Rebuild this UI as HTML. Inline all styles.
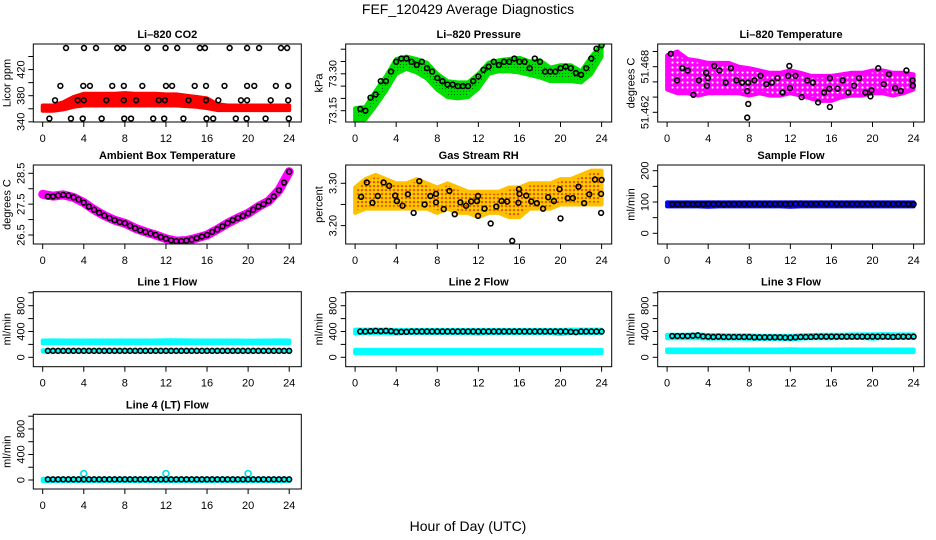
<!DOCTYPE html>
<html><head><meta charset="utf-8"><style>
html,body{margin:0;padding:0;background:#fff;}
svg{display:block;font-family:"Liberation Sans",Arial,sans-serif;}
</style></head><body>
<svg id="chart" width="936" height="540" viewBox="0 0 936 540" xmlns="http://www.w3.org/2000/svg">
<defs>
<pattern id="rhPat" width="4" height="4" patternUnits="userSpaceOnUse"><rect width="4" height="4" fill="#ffd000"/><circle cx="2" cy="2" r="1.3" fill="#e85a00"/></pattern>
<pattern id="grPat" width="3" height="3" patternUnits="userSpaceOnUse"><rect width="3" height="3" fill="#00e000"/><rect x="1" y="1" width="1" height="1" fill="#006000"/></pattern>
<pattern id="mgPat" width="5" height="5" patternUnits="userSpaceOnUse"><rect width="5" height="5" fill="#ff00ff"/><circle cx="2.5" cy="2.5" r="1.1" fill="#ffffff"/></pattern>
</defs>
<text x="468" y="14" font-size="14" text-anchor="middle">FEF_120429  Average Diagnostics</text>
<text x="468" y="531" font-size="14" text-anchor="middle">Hour of Day (UTC)</text>
</svg>
<script>
const hours25=[0,1,2,3,4,5,6,7,8,9,10,11,12,13,14,15,16,17,18,19,20,21,22,23,24];
const hours48=[0.5,1,1.5,2,2.5,3,3.5,4,4.5,5,5.5,6,6.5,7,7.5,8,8.5,9,9.5,10,10.5,11,11.5,12,12.5,13,13.5,14,14.5,15,15.5,16,16.5,17,17.5,18,18.5,19,19.5,20,20.5,21,21.5,22,22.5,23,23.5,24];
const xTicks=[0,4,8,12,16,20,24];

// CO2
const co2Hours=[2.27,4.02,5.19,7.26,7.84,10.2,11.96,13.1,15.3,15.8,18.2,19.9,21.07,23.2,23.8,
1.72,3.95,4.6,6.77,7.9,9.7,12.0,12.6,14.8,15.9,17.7,19.9,20.6,22.7,23.9,
1.2,3.4,4.0,6.2,7.9,9.1,11.3,11.9,14.2,15.9,17.1,19.3,19.9,22.2,23.9,
0.65,2.75,3.9,5.74,7.94,8.6,10.76,11.83,13.7,15.95,16.6,18.8,19.85,21.7,23.96];
const co2Vals=[453,453,453,453,453,453,453,453,453,453,453,453,453,453,453,
395,395,395,395,395,395,395,395,395,395,395,395,395,395,395,
373,373,373,373,373,373,373,373,373,373,373,373,373,373,373,
345,345,345,345,345,345,345,345,345,345,345,345,345,345,345];
const co2BandLo=[357,357,359,363,365,365,365,365,365,365,365,365,365,365,364,363,361,358,358,358,358,358,358,358,358];
const co2BandHi=[365,365,370,378,383,383,383,383,384,383,383,383,382,382,380,378,376,367,365,365,365,365,365,365,365];
const co2Ticks=[340,360,380,400,420,440];
const co2Labels=["340","","380","","420",""];

// Pressure
const presVals=[73.157,73.15,73.203,73.216,73.27,73.27,73.309,73.349,73.362,73.362,73.349,73.336,73.349,73.323,73.309,73.283,73.27,73.256,73.256,73.25,73.25,73.25,73.27,73.289,73.316,73.329,73.349,73.336,73.349,73.349,73.362,73.349,73.349,73.323,73.362,73.349,73.309,73.309,73.309,73.323,73.329,73.323,73.303,73.296,73.323,73.362,73.402,73.416];
const presBandHi=[73.16,73.165,73.23,73.29,73.36,73.37,73.36,73.345,73.30,73.27,73.265,73.265,73.30,73.345,73.355,73.36,73.365,73.35,73.355,73.325,73.335,73.335,73.31,73.37,73.42];
const presBandLo=[73.11,73.115,73.17,73.23,73.30,73.32,73.305,73.28,73.235,73.205,73.20,73.205,73.24,73.30,73.31,73.31,73.305,73.295,73.285,73.27,73.27,73.27,73.265,73.30,73.37];
const presTicks=[73.15,73.20,73.25,73.30,73.35,73.40];
const presLabels=["73.15","","","73.30","",""];

// Li-820 temperature
const ltHours=[0.36,0.97,1.48,2.0,2.56,3.1,3.8,3.88,3.97,4.6,5.1,5.7,6.2,6.75,7.3,7.8,7.9,7.9,7.8,8.5,9.1,9.66,10.2,10.75,11.25,11.8,11.9,11.96,12.5,13.1,13.65,14.2,14.7,15.3,15.8,15.85,15.85,16.6,17.1,17.65,18.2,18.7,19.3,19.8,19.9,20.56,21.1,21.6,22.2,22.75,23.3,23.9,23.93];
const ltVals=[51.4697,51.4662,51.4678,51.4675,51.4643,51.4662,51.4672,51.4655,51.4665,51.4681,51.4675,51.4659,51.4678,51.4662,51.4659,51.4648,51.4659,51.4631,51.4613,51.4662,51.4668,51.4657,51.4659,51.4665,51.4646,51.4668,51.4681,51.4652,51.4668,51.4640,51.4662,51.4659,51.4633,51.4646,51.4651,51.4665,51.4627,51.4651,51.4662,51.4646,51.4655,51.4665,51.4646,51.4641,51.4649,51.4678,51.4657,51.4670,51.4652,51.4648,51.4675,51.4662,51.4655];
const ltBandLo=[51.4650,51.4645,51.4645,51.4642,51.4645,51.4645,51.4645,51.4645,51.4642,51.4645,51.4642,51.4642,51.4645,51.4642,51.4638,51.4635,51.4635,51.4640,51.4642,51.4642,51.4645,51.4645,51.4642,51.4645,51.4650];
const ltBandHi=[51.4695,51.4700,51.4690,51.4688,51.4685,51.4685,51.4685,51.4680,51.4678,51.4675,51.4672,51.4672,51.4675,51.4672,51.4668,51.4668,51.4668,51.4670,51.4672,51.4672,51.4675,51.4675,51.4672,51.4672,51.4670];
const ltTicks=[51.470,51.468,51.466,51.464,51.462];
const ltLabels=["","51.468","","","51.462"];

// Ambient box temperature
const ambVals=[27.75,27.75,27.78,27.8,27.78,27.72,27.65,27.55,27.42,27.32,27.22,27.13,27.05,26.98,26.92,26.88,26.8,26.72,26.65,26.6,26.55,26.5,26.43,26.38,26.33,26.3,26.3,26.32,26.35,26.4,26.45,26.5,26.6,26.68,26.78,26.88,26.98,27.05,27.12,27.2,27.32,27.42,27.5,27.6,27.75,27.95,28.2,28.55];
const ambLine=[27.82,27.76,27.8,27.72,27.55,27.32,27.13,26.98,26.88,26.72,26.6,26.5,26.38,26.3,26.32,26.4,26.5,26.68,26.88,27.05,27.2,27.42,27.6,27.95,28.55];
const ambTicks=[26.5,27,27.5,28,28.5];
const ambLabels=["26.5","","27.5","","28.5"];

// Gas stream RH
const rhHours=[0.59,1.14,1.69,2.21,2.77,3.32,3.9,4.07,4.62,5.14,5.7,6.25,6.77,7.33,7.88,7.88,8.63,9.18,9.7,10.25,10.8,11.3,11.87,11.97,11.97,12.6,13.2,13.75,14.26,14.8,15.3,15.9,15.95,16.0,16.66,17.15,17.7,18.3,18.8,19.36,19.9,20.0,20.7,21.2,21.75,22.3,22.8,23.35,24.0,23.95,23.95];
const rhVals=[3.268,3.302,3.254,3.27,3.302,3.294,3.271,3.258,3.247,3.274,3.23,3.305,3.25,3.27,3.275,3.255,3.239,3.282,3.227,3.255,3.247,3.257,3.258,3.27,3.223,3.24,3.205,3.245,3.258,3.257,3.164,3.254,3.286,3.275,3.271,3.257,3.253,3.24,3.267,3.258,3.286,3.217,3.265,3.265,3.292,3.253,3.274,3.309,3.308,3.275,3.23];
const rhBandLo=[3.23,3.24,3.24,3.24,3.24,3.24,3.24,3.24,3.23,3.24,3.23,3.23,3.22,3.23,3.23,3.22,3.22,3.24,3.24,3.24,3.25,3.25,3.25,3.25,3.25];
const rhBandHi=[3.29,3.31,3.32,3.31,3.30,3.30,3.31,3.30,3.29,3.30,3.29,3.28,3.28,3.28,3.28,3.29,3.29,3.30,3.30,3.30,3.31,3.31,3.32,3.33,3.33];
const rhTicks=[3.20,3.25,3.30];
const rhLabels=["3.20","","3.30"];

// Sample flow
const sampleVals=[93,93,93,94,93,93,93,94,94,94,93,94,94,94,94,94,94,94,94,94,94,94,94,94,95,95,94,94,94,95,94,95,94,94,94,94,94,94,94,94,94,94,94,94,94,94,93,93];
const sampleBandLo=[86,86,86,86,85,86,86,86,86,86,86,86,85,86,86,86,86,86,86,86,86,86,86,86,86];
const sampleBandHi=[99,99,99,99,99,99,99,99,99,99,99,99,99,99,99,99,99,99,99,99,99,99,99,99,99];
const sampleTicks=[0,50,100,150,200];
const sampleLabels=["0","","100","","200"];

// Line flows
const flowTicks=[0,200,400,600,800,1000];
const flowLabels=["0","","400","","800",""];
const line1Black=[100,100,100,100,100,100,100,100,100,100,100,100,100,100,100,100,100,100,100,100,100,100,100,100,100,100,100,100,100,100,100,100,100,100,100,100,100,100,100,100,100,100,100,100,100,100,100,100];
const line1HiLo=[220,220,220,220,220,220,220,220,220,220,220,220,220,220,220,220,220,220,220,220,220,220,220,220,220];
const line1HiHi=[260,262,260,260,260,260,260,260,260,260,260,260,265,265,262,260,260,260,260,260,258,260,260,262,260];
const line1LoLo=[90,90,90,90,90,90,90,90,90,90,90,90,90,90,90,90,90,90,90,90,90,90,90,90,90];
const line1LoHi=[110,110,110,110,110,110,110,110,110,110,110,110,110,110,110,110,110,110,110,110,110,110,110,110,110];
const line2Black=[400,400,405,410,405,410,405,395,395,395,400,400,400,400,400,400,400,400,400,400,400,400,400,400,400,400,400,400,400,400,400,400,400,400,400,400,400,400,400,400,400,395,390,400,400,400,400,400];
const line2HiLo=[370,375,375,375,365,375,375,375,375,375,375,375,365,375,375,375,375,375,375,375,360,375,375,375,375];
const line2HiHi=[430,430,430,430,425,425,425,425,425,425,425,425,425,425,425,425,425,425,425,425,425,430,430,430,430];
const line2LoLo=[65,65,65,65,62,65,65,65,65,65,65,65,62,65,65,65,65,65,65,65,65,65,65,65,65];
const line2LoHi=[115,115,115,115,115,115,115,115,115,115,115,115,115,115,115,115,115,115,115,115,115,115,115,115,115];
const line3Black=[330,330,330,330,335,340,325,320,315,320,315,315,315,315,315,315,310,310,310,310,310,310,305,305,310,315,315,315,320,320,320,320,320,320,320,320,320,320,320,320,320,320,320,315,320,320,320,320];
const line3HiLo=[295,295,295,295,290,290,290,290,285,285,285,285,275,290,295,295,295,300,300,300,290,300,300,300,300];
const line3HiHi=[350,350,350,355,345,345,340,340,340,335,335,335,335,340,345,350,350,350,355,355,355,360,355,355,355];
const line3LoLo=[80,80,80,80,80,80,80,80,80,80,80,80,80,80,80,80,80,80,80,80,80,80,80,80,80];
const line3LoHi=[120,120,120,120,120,120,120,120,120,120,120,120,125,120,120,120,120,120,120,120,120,120,120,120,120];
const line4Black=[10,10,10,10,10,10,10,10,10,10,10,10,10,10,10,10,10,10,10,10,10,10,10,10,10,10,10,10,10,10,10,10,10,10,10,10,10,10,10,10,10,10,10,10,10,10,10,10];
const line4BandLo=[-15,-15,-15,-15,-15,-15,-15,-15,-15,-15,-15,-15,-15,-15,-15,-15,-15,-15,-15,-15,-15,-15,-15,-15,-15];
const line4BandHi=[20,20,20,20,20,20,20,20,20,20,20,20,20,20,20,20,20,20,20,20,20,20,20,20,20];
const line4OutHours=[4,12,20];
const line4OutVals=[100,100,100];

const svg=document.getElementById('chart');
const NS='http://www.w3.org/2000/svg';
function mk(tag,parent){const e=document.createElementNS(NS,tag);parent.appendChild(e);return e;}

const colL=[33.3,345.7,657.7], colW=[268,266,266.6];
const rowT=[44,165,291.7,414.3], rowB=[122,244,366.7,489];

function panel(name,title,c,r,ref,refPix,k,ticks,labels,ytitle){
  const g=mk('g',svg);
  
  
  const L=colL[c],T=rowT[r],W=colW[c],B=rowB[r];
  const x0=L+9.4, xs=246.5/24;
  const P={g:g,sx:h=>x0+h*xs,sy:v=>refPix-(v-ref)*k,L:L,T:T,W:W,B:B};
  const marks=mk('g',g);
  
  
  P.m=marks;
  const cp=mk('clipPath',g);cp.setAttribute('id','clip-'+name);
  const cr=mk('rect',cp);cr.setAttribute('x',L);cr.setAttribute('y',T);cr.setAttribute('width',W);cr.setAttribute('height',B-T);
  marks.setAttribute('clip-path','url(#clip-'+name+')');
  const box=mk('rect',g);
  
  
  box.setAttribute('x',L);box.setAttribute('y',T);box.setAttribute('width',W);box.setAttribute('height',B-T);
  box.setAttribute('fill','none');box.setAttribute('stroke','#000');box.setAttribute('stroke-width','1');
  const t=mk('text',g);
  
  
  t.setAttribute('x',L+W/2);t.setAttribute('y',T-6);t.setAttribute('font-size','11');t.setAttribute('font-weight','bold');t.setAttribute('text-anchor','middle');
  t.textContent=title;
  xTicks.forEach(h=>{
    const x=P.sx(h);
    const l=mk('line',g);
    
    
    l.setAttribute('x1',x);l.setAttribute('x2',x);l.setAttribute('y1',B);l.setAttribute('y2',B+5);l.setAttribute('stroke','#000');
    const tx=mk('text',g);
    
    
    tx.setAttribute('x',x);tx.setAttribute('y',B+20);tx.setAttribute('font-size','11');tx.setAttribute('text-anchor','middle');
    tx.textContent=String(h);
  });
  ticks.forEach((v,i)=>{
    const y=P.sy(v);
    if(y<T-1||y>B+1)return;
    const l=mk('line',g);
    
    
    l.setAttribute('x1',L-5);l.setAttribute('x2',L);l.setAttribute('y1',y);l.setAttribute('y2',y);l.setAttribute('stroke','#000');
    if(labels[i]){
      const tx=mk('text',g);
      
      
      tx.setAttribute('x',L-9);tx.setAttribute('y',y);tx.setAttribute('font-size','11');tx.setAttribute('text-anchor','middle');
      tx.setAttribute('transform','rotate(-90 '+(L-9)+' '+y+')');
      tx.textContent=labels[i];
    }
  });
  const yt=mk('text',g);
  
  
  const cy=(T+B)/2, cx=L-23;
  yt.setAttribute('x',cx);yt.setAttribute('y',cy);yt.setAttribute('font-size','11');yt.setAttribute('text-anchor','middle');
  yt.setAttribute('transform','rotate(-90 '+cx+' '+cy+')');
  yt.textContent=ytitle;
  return P;
}

function band(P,lo,hi,fill,stroke,name){
  let pts=[];
  hours25.forEach((h,i)=>pts.push(P.sx(h)+','+P.sy(hi[i])));
  for(let i=hours25.length-1;i>=0;i--)pts.push(P.sx(hours25[i])+','+P.sy(lo[i]));
  const p=mk('polygon',P.m);
  
  
  p.setAttribute('points',pts.join(' '));
  p.setAttribute('fill',fill);p.setAttribute('stroke',stroke);p.setAttribute('stroke-width','4');p.setAttribute('stroke-linejoin','round');
}
function pts(P,hs,vs,color,name,r){
  hs.forEach((h,i)=>{
    const c=mk('circle',P.m);
    
    
    c.setAttribute('cx',P.sx(h));c.setAttribute('cy',P.sy(vs[i]));c.setAttribute('r',r||2.4);
    c.setAttribute('fill','none');c.setAttribute('stroke',color);c.setAttribute('stroke-width','1.6');
  });
}

// CO2
let P=panel('co2','Li\u2013820 CO2',0,0,380,95.7,0.6533,co2Ticks,co2Labels,'Licor ppm');
band(P,co2BandLo,co2BandHi,'#ff0000','#ff0000','co2-band');
pts(P,co2Hours,co2Vals,'#000','co2-point');

// Pressure
P=panel('pressure','Li\u2013820 Pressure',1,0,73.15,110.7,246,presTicks,presLabels,'kPa');
band(P,presBandLo,presBandHi,'url(#grPat)','#00e000','pressure-band');
pts(P,hours48,presVals,'#000','pressure-point');

// Li temp
P=panel('li-temp','Li\u2013820 Temperature',2,0,51.468,66.7,7600,ltTicks,ltLabels,'degrees C');
band(P,ltBandLo,ltBandHi,'url(#mgPat)','#ff00ff','li-temp-band');
pts(P,ltHours,ltVals,'#000','li-temp-point');

// Ambient
P=panel('ambient','Ambient Box Temperature',0,1,28.5,173.3,30.85,ambTicks,ambLabels,'degrees C');
{
  const pl=mk('polyline',P.m);
  
  
  pl.setAttribute('points',hours25.map((h,i)=>P.sx(h)+','+P.sy(ambLine[i])).join(' '));
  pl.setAttribute('fill','none');pl.setAttribute('stroke','#ff00ff');pl.setAttribute('stroke-width','9');pl.setAttribute('stroke-linecap','round');pl.setAttribute('stroke-linejoin','round');
}
pts(P,hours48,ambVals,'#000','ambient-point');

// RH
P=panel('rh','Gas Stream RH',1,1,3.30,183.3,423,rhTicks,rhLabels,'percent');
band(P,rhBandLo,rhBandHi,'url(#rhPat)','#ffc000','rh-band');
pts(P,rhHours,rhVals,'#000','rh-point');

// Sample flow
P=panel('sample-flow','Sample Flow',2,1,0,233.3,0.313,sampleTicks,sampleLabels,'ml/min');
band(P,sampleBandLo,sampleBandHi,'#0000ff','#0000ff','sample-flow-band');
pts(P,hours48,sampleVals,'#000','sample-flow-point');

// Line 1
P=panel('line1-flow','Line 1 Flow',0,2,0,357.3,0.0645,flowTicks,flowLabels,'ml/min');
band(P,line1HiLo,line1HiHi,'#00ffff','#00ffff','line1-high-band');
band(P,line1LoLo,line1LoHi,'#00ffff','#00ffff','line1-low-band');
pts(P,hours48,line1Black,'#000','line1-point');

// Line 2
P=panel('line2-flow','Line 2 Flow',1,2,0,357.3,0.0645,flowTicks,flowLabels,'ml/min');
band(P,line2HiLo,line2HiHi,'#00ffff','#00ffff','line2-high-band');
band(P,line2LoLo,line2LoHi,'#00ffff','#00ffff','line2-low-band');
pts(P,hours48,line2Black,'#000','line2-point');

// Line 3
P=panel('line3-flow','Line 3 Flow',2,2,0,357.3,0.0645,flowTicks,flowLabels,'ml/min');
band(P,line3HiLo,line3HiHi,'#00ffff','#00ffff','line3-high-band');
band(P,line3LoLo,line3LoHi,'#00ffff','#00ffff','line3-low-band');
pts(P,hours48,line3Black,'#000','line3-point');

// Line 4
P=panel('line4-flow','Line 4 (LT) Flow',0,3,0,480,0.0638,flowTicks,flowLabels,'ml/min');
band(P,line4BandLo,line4BandHi,'#00ffff','#00ffff','line4-band');
pts(P,line4OutHours,line4OutVals,'#00e0e0','line4-outlier',3);
pts(P,hours48,line4Black,'#000','line4-point');
</script>
</body></html>
